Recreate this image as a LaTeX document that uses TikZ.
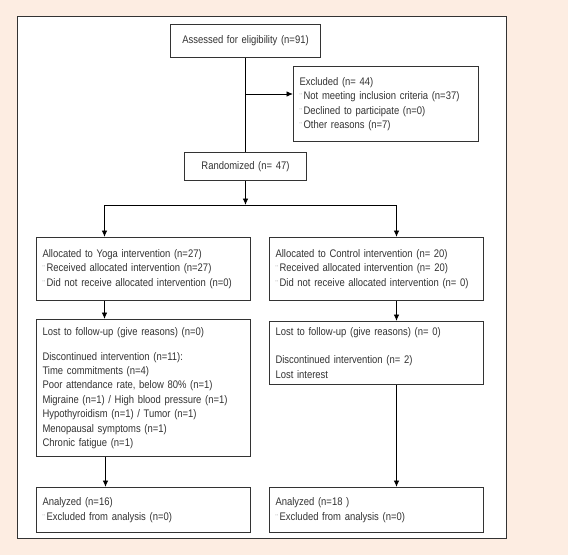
\documentclass[tikz,border=0pt]{standalone}
\usepackage{fontspec}
\setmainfont[FakeStretch=0.86]{Liberation Sans}
\usetikzlibrary{arrows.meta, positioning}

\definecolor{peach}{HTML}{FDEDE2}
\definecolor{ink}{HTML}{333333}
\newcommand{\bulmark}{{\color{gray}\fontsize{8}{8}\selectfont ¨}\,}

\begin{document}
\begin{tikzpicture}[x=1pt, y=-1pt,
    box/.style={draw=ink, line width=1pt, anchor=north west,
                inner xsep=6pt, inner ysep=0pt, align=left,
                text=ink, font=\fontsize{11}{14.4}\selectfont},
    link/.style={draw=black, line width=0.9pt},
    arrow/.style={link, -{Latex[length=6.5pt, width=5.5pt]}}]
    \useasboundingbox (0,0) rectangle (568,555);
    \fill[peach] (0,0) rectangle (568,555);
    \draw[fill=white, draw=ink, line width=1pt] (17,16) rectangle (506,538);

    \node[box, align=center, text width=138pt, minimum height=33pt]
         (assess) at (170,24) {Assessed for eligibility (n=91)};
    \node[box, text width=173pt, minimum height=75pt]
         (excl) at (293,66)
         {Excluded (n= 44)\\
          \bulmark Not meeting inclusion criteria (n=37)\\
          \bulmark Declined to participate (n=0)\\
          \bulmark Other reasons (n=7)};
    \node[box, align=center, text width=110pt, minimum height=28pt]
         (rand) at (184,152) {Randomized (n= 47)};

    % allocation
    \node[box, text width=202pt, minimum height=63pt]
         (yalloc) at (36,237)
         {Allocated to Yoga intervention (n=27)\\
          \bulmark Received allocated intervention (n=27)\\
          \bulmark Did not receive allocated intervention (n=0)};
    \node[box, text width=202pt, minimum height=63pt]
         (calloc) at (269,237)
         {Allocated to Control intervention (n= 20)\\
          \bulmark Received allocated intervention (n= 20)\\
          \bulmark Did not receive allocated intervention (n= 0)};

    % follow-up
    \node[box, text width=202pt, minimum height=137pt]
         (ylost) at (36,319)
         {Lost to follow-up (give reasons) (n=0)\\[10.6pt]
          Discontinued intervention (n=11):\\
          Time commitments (n=4)\\
          Poor attendance rate, below 80\% (n=1)\\
          Migraine (n=1) / High blood pressure (n=1)\\
          Hypothyroidism (n=1) / Tumor (n=1)\\
          Menopausal symptoms (n=1)\\
          Chronic fatigue (n=1)};
    \node[box, text width=202pt, minimum height=63pt]
         (clost) at (269,321)
         {Lost to follow-up (give reasons) (n= 0)\\[13.6pt]
          Discontinued intervention (n= 2)\\
          Lost interest};

    % analysis
    \node[box, text width=202pt, minimum height=45pt]
         (yana) at (36,487)
         {Analyzed (n=16)\\
          \bulmark Excluded from analysis (n=0)};
    \node[box, text width=202pt, minimum height=45pt]
         (cana) at (269,487)
         {Analyzed (n=18 )\\
          \bulmark Excluded from analysis (n=0)};

    % connectors
    \coordinate (split) at (245,94);
    \draw[link] (assess.south) -- (rand.north);
    \draw[arrow] (split) -- (split -| excl.west);

    \coordinate (fork) at ([yshift=-24pt]rand.south);
    \coordinate (yin) at ([xshift=-39pt]yalloc.north);
    \coordinate (cin) at ([xshift=20pt]calloc.north);
    \draw[arrow] (rand.south) -- (fork);
    \draw[link] (yin |- fork) -- (cin |- fork);
    \draw[arrow] (yin |- fork) -- (yin);
    \draw[arrow] (cin |- fork) -- (cin);

    \draw[arrow] ([xshift=-39pt]yalloc.south) -- ([xshift=-39pt]ylost.north);
    \draw[arrow] ([xshift=20pt]calloc.south) -- ([xshift=20pt]clost.north);
    \draw[arrow] ([xshift=-38pt]ylost.south) -- ([xshift=-38pt]yana.north);
    \draw[arrow] ([xshift=20pt]clost.south) -- ([xshift=20pt]cana.north);
\end{tikzpicture}
\end{document}
